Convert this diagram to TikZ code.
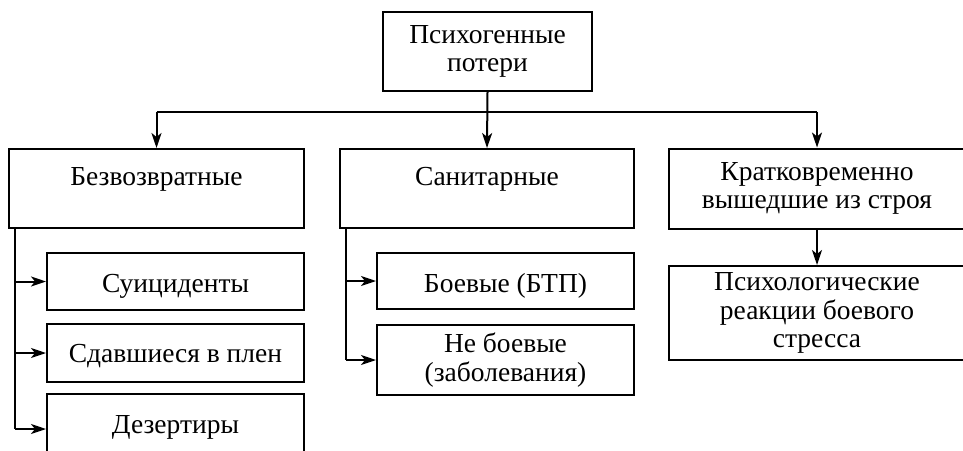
\documentclass[tikz,border=0pt]{standalone}
\usepackage{fontspec}
\setmainfont{Liberation Serif}
\usetikzlibrary{arrows.meta}
\begin{document}
\begin{tikzpicture}[x=1pt,y=-1pt,
  every node/.style={font=\fontsize{27.5}{28.5}\selectfont},
  box/.style={draw, line width=2pt, rectangle, inner sep=0pt, align=center},
  link/.style={line width=2pt},
  arr/.style={line width=2pt, -{Stealth[length=15pt,width=10pt,inset=4pt]}}]
\useasboundingbox (0,0) rectangle (963,450);

% top level
\node[box, minimum width=209pt, minimum height=79pt] (top) at (487.5,51.5) {Психогенные\\потери};

% second row (single lines: text height/depth fix the baseline inside the box)
\node[box, minimum width=295pt, text height=36pt, text depth=43pt] (bez) at (156.5,188.5) {Безвозвратные};
\node[box, minimum width=294pt, text height=36pt, text depth=43pt] (san) at (487,188.5) {Санитарные};
\node[box, minimum width=296pt, minimum height=80pt] (krat) at (817,188.5) {Кратковременно\\вышедшие из строя};

% left branch
\node[box, minimum width=257pt, text height=39pt, text depth=18pt] (sui) at (175.5,281.5) {Суициденты};
\node[box, minimum width=257pt, text height=38pt, text depth=20pt] (sda) at (175.5,353) {Сдавшиеся в плен};
\node[box, minimum width=257pt, text height=39pt, text depth=31pt] (dez) at (175.5,429) {Дезертиры};

% middle branch
\node[box, minimum width=257pt, text height=39pt, text depth=17pt] (boe) at (505.5,281) {Боевые (БТП)};
\node[box, minimum width=257pt, minimum height=70pt] (neb) at (505.5,360) {Не боевые\\(заболевания)};

% right branch
\node[box, minimum width=296pt, minimum height=94pt] (psy) at (817,313) {Психологические\\реакции боевого\\стресса};

% distribution bus under the top box
\coordinate (bus) at (0,112);
\draw[link] (bez.north |- bus) -- (krat.north |- bus);
\draw[arr] (top.south) -- (san.north);
\draw[arr] (bez.north |- bus) -- (bez.north);
\draw[arr] (krat.north |- bus) -- (krat.north);

% left trunk
\coordinate (lt) at ([xshift=7pt]bez.south west);
\draw[link] (lt) -- (lt |- dez.west);
\draw[arr] (lt |- sui.west) -- (sui.west);
\draw[arr] (lt |- sda.west) -- (sda.west);
\draw[arr] (lt |- dez.west) -- (dez.west);

% middle trunk
\coordinate (mt) at ([xshift=7pt]san.south west);
\draw[link] (mt) -- (mt |- neb.west);
\draw[arr] (mt |- boe.west) -- (boe.west);
\draw[arr] (mt |- neb.west) -- (neb.west);

% right link
\draw[arr] (krat.south) -- (psy.north);
\end{tikzpicture}
\end{document}
